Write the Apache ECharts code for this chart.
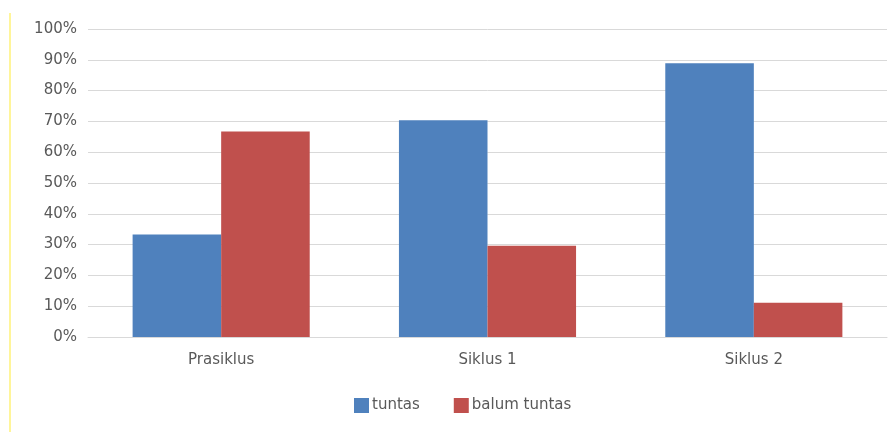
<!DOCTYPE html>
<html><head><meta charset="utf-8">
<script src="https://cdn.jsdelivr.net/npm/echarts@6/dist/echarts.min.js"></script>
<style>html,body{margin:0;padding:0;background:#fff}#c{width:896px;height:432px}</style>
</head><body><div id="c"></div>
<script>
const categories = ['Prasiklus', 'Siklus 1', 'Siklus 2'];
const tuntas = [33.3, 70.4, 88.9];
const balumTuntas = [66.7, 29.6, 11.1];
const yTicks = [0, 10, 20, 30, 40, 50, 60, 70, 80, 90, 100];

const chart = echarts.init(document.getElementById('c'), null, {renderer: 'canvas'});
chart.setOption({
  animation: false,
  backgroundColor: '#ffffff',
  textStyle: {fontFamily: 'DejaVu Sans'},
  graphic: [{
    type: 'line', shape: {x1: 10, y1: 13, x2: 10, y2: 432},
    style: {stroke: '#fff59a', lineWidth: 2}
  }],
  grid: {left: 88, right: 9, top: 29, bottom: 95},
  legend: {
    top: 393, left: 349, itemWidth: 15, itemHeight: 15, itemGap: 34,
    icon: 'rect',
    textStyle: {color: '#595959', fontSize: 15, fontFamily: 'DejaVu Sans', padding: [0, 0, 0, -2]},
    data: ['tuntas', 'balum tuntas']
  },
  xAxis: {
    type: 'category', data: categories,
    axisLine: {lineStyle: {color: '#d9d9d9'}},
    axisTick: {show: false},
    axisLabel: {color: '#595959', fontSize: 15, fontFamily: 'DejaVu Sans', margin: 16}
  },
  yAxis: {
    type: 'value', min: 0, max: 100, interval: 10,
    axisLine: {show: false}, axisTick: {show: false},
    axisLabel: {color: '#595959', fontSize: 15, fontFamily: 'DejaVu Sans', margin: 11, formatter: v => v + '%'},
    splitLine: {lineStyle: {color: '#d9d9d9', width: 1}}
  },
  series: [
    {name: 'tuntas', type: 'bar', data: tuntas, barGap: '0%', barCategoryGap: '33.5%',
     itemStyle: {color: '#4f81bd'}},
    {name: 'balum tuntas', type: 'bar', data: balumTuntas,
     itemStyle: {color: '#c0504d'}}
  ]
});
</script></body></html>
